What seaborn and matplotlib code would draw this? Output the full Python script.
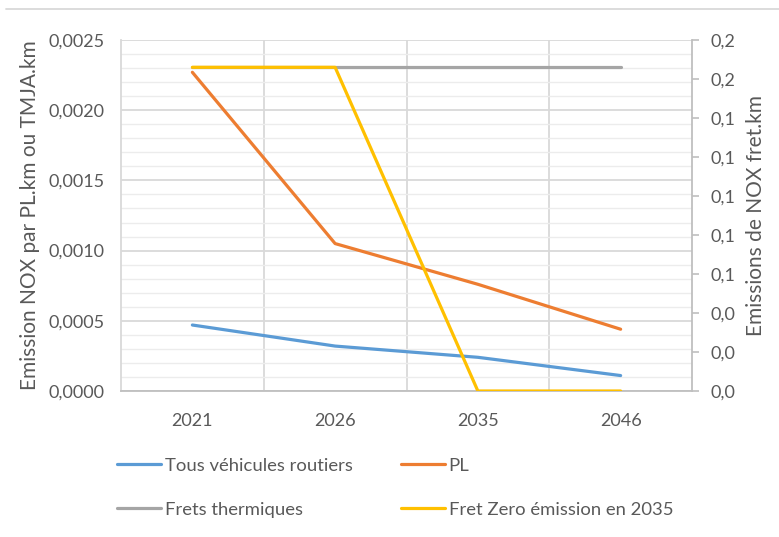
import matplotlib
matplotlib.use("Agg")
import matplotlib.pyplot as plt
from matplotlib.lines import Line2D
import seaborn as sns
import pandas as pd

# Categories and series
years = ["2021", "2026", "2035", "2046"]
tous_vehicules = [0.00047, 0.00032, 0.00024, 0.00011]   # left axis
poids_lourds = [0.00227, 0.00105, 0.00076, 0.00044]     # left axis
frets_thermiques = [0.166, 0.166, 0.166, 0.166]         # right axis
fret_zero_2035 = [0.166, 0.166, 0.0, 0.0]               # right axis

left_ticks = [0.0, 0.0005, 0.0010, 0.0015, 0.0020, 0.0025]
left_tick_labels = ["0,0000", "0,0005", "0,0010", "0,0015", "0,0020", "0,0025"]
right_ticks = [0.0, 0.02, 0.04, 0.06, 0.08, 0.10, 0.12, 0.14, 0.16, 0.18]
right_tick_labels = ["0,0", "0,0", "0,0", "0,1", "0,1", "0,1", "0,1", "0,1", "0,2", "0,2"]

series_names = ["Tous véhicules routiers", "PL", "Frets thermiques", "Fret Zero émission en 2035"]
colors = ["#5B9BD5", "#ED7D31", "#A5A5A5", "#FFC000"]

sns.set_style("white")
plt.rcParams["font.family"] = ["Lato", "DejaVu Sans"]
text_color = "#595959"

fig = plt.figure(figsize=(7.79, 5.37), dpi=100)
ax = fig.add_axes([121 / 779, 1 - 391 / 537, (692 - 121) / 779, (391 - 40) / 537])
ax2 = ax.twinx()

df_left = pd.DataFrame({"annee": years, "tous": tous_vehicules, "pl": poids_lourds})
df_right = pd.DataFrame({"annee": years, "thermiques": frets_thermiques, "zero": fret_zero_2035})

lw = 2.3
sns.lineplot(data=df_left, x="annee", y="tous", ax=ax, color=colors[0], lw=lw, sort=False)
sns.lineplot(data=df_left, x="annee", y="pl", ax=ax, color=colors[1], lw=lw, sort=False)
sns.lineplot(data=df_right, x="annee", y="thermiques", ax=ax2, color=colors[2], lw=lw, sort=False)
sns.lineplot(data=df_right, x="annee", y="zero", ax=ax2, color=colors[3], lw=lw, sort=False)

# Axis ranges and ticks
ax.set_xlim(-0.5, len(years) - 0.5)
ax.set_ylim(0, 0.0025)
ax2.set_ylim(0, 0.18)
ax.set_xticks(range(len(years)))
ax.set_xticklabels(years)
ax.set_yticks(left_ticks)
ax.set_yticklabels(left_tick_labels)
ax.set_yticks([i * 0.0001 for i in range(26)], minor=True)
ax.set_xticks([0.5, 1.5, 2.5], minor=True)
ax2.set_yticks(right_ticks)
ax2.set_yticklabels(right_tick_labels)

# Grid
ax.set_axisbelow(True)
ax.grid(which="major", axis="y", color="#d9d9d9", lw=1.3)
ax.grid(which="minor", axis="y", color="#ececec", lw=1.0)
ax.grid(which="minor", axis="x", color="#d9d9d9", lw=1.3)
ax.grid(which="major", axis="x", visible=False)

for a in (ax, ax2):
    for s in a.spines.values():
        s.set_visible(False)
ax.spines["left"].set_visible(True)
ax.spines["left"].set_color("#d9d9d9")
ax.spines["left"].set_linewidth(1.3)
ax.spines["bottom"].set_visible(True)
ax.spines["bottom"].set_color("#bfbfbf")
ax.spines["bottom"].set_linewidth(1.3)
ax2.spines["right"].set_visible(True)
ax2.spines["right"].set_color("#bfbfbf")
ax2.spines["right"].set_linewidth(1.3)

fs = 13
ax.tick_params(axis="both", which="both", length=0, labelsize=fs, labelcolor=text_color)
ax.tick_params(axis="x", pad=16)
ax.tick_params(axis="y", pad=12)
ax2.tick_params(axis="y", which="major", length=5, width=1.2, color="#bfbfbf",
                labelsize=fs, labelcolor=text_color, pad=8)
ax2.tick_params(axis="y", which="minor", length=0)

ax.set_xlabel("")
ax.set_ylabel("Emission NOX par PL.km ou TMJA.km", fontsize=15, color=text_color, labelpad=6)
ax2.set_ylabel("Emissions de NOX fret.km", fontsize=15, color=text_color, labelpad=8)

# Legend in two rows
handles = [Line2D([], [], color=c, lw=lw) for c in colors]
order = [0, 2, 1, 3]
fig.legend([handles[i] for i in order], [series_names[i] for i in order],
           ncol=2, loc="upper left", bbox_to_anchor=(100 / 779, 1 - 441 / 537),
           frameon=False, fontsize=13.3, labelcolor=text_color,
           handlelength=2.4, handletextpad=0.2, columnspacing=2.6, labelspacing=1.53)

# Chart frame line across the top
fig.add_artist(Line2D([0.008, 1.0], [1 - 9 / 537, 1 - 9 / 537], transform=fig.transFigure,
                      color="#d9d9d9", lw=1.3))

fig.savefig("out.png", dpi=100)
